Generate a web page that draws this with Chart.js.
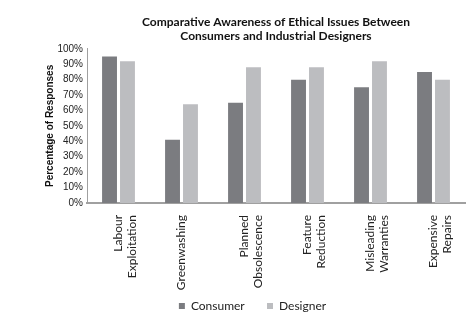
<!DOCTYPE html>
<html>
<head>
<meta charset="utf-8">
<script src="https://cdn.jsdelivr.net/npm/chart.js@4"></script>
<style>
    html, body { margin: 0; padding: 0; background: #fff; }
    #wrap { width: 476px; height: 322px; }
</style>
</head>
<body>
<div id="wrap"><canvas id="awarenessChart"></canvas></div>
<script>
const categories = [
    ['Labour', 'Exploitation'],
    'Greenwashing',
    ['Planned', 'Obsolescence'],
    ['Feature', 'Reduction'],
    ['Misleading', 'Warranties'],
    ['Expensive', 'Repairs']
];
const consumer = [95, 41, 65, 80, 75, 85];
const designer = [92, 64, 88, 88, 92, 80];
const yTicks = [0, 10, 20, 30, 40, 50, 60, 70, 80, 90, 100];

const sans = "'Liberation Sans', Arial, sans-serif";
const humanist = "Lato, 'Open Sans', sans-serif";

function initChart() {
    const ctx = document.getElementById('awarenessChart').getContext('2d');

    new Chart(ctx, {
        type: 'bar',
        data: {
            labels: categories,
            datasets: [
                {
                    label: 'Consumer',
                    data: consumer,
                    backgroundColor: '#7b7c80'
                },
                {
                    label: 'Designer',
                    data: designer,
                    backgroundColor: '#bcbdc0'
                }
            ]
        },
        options: {
            responsive: true,
            maintainAspectRatio: false,
            animation: false,
            categoryPercentage: 0.57,
            barPercentage: 0.83,
            layout: { padding: { left: 40, right: 11, bottom: 0 } },
            plugins: {
                title: {
                    display: true,
                    fullSize: false,
                    text: ['Comparative Awareness of Ethical Issues Between', 'Consumers and Industrial Designers'],
                    color: '#111',
                    font: { family: humanist, size: 12, weight: 'bold', lineHeight: 1.2 },
                    padding: { top: 15, bottom: 5 }
                },
                legend: {
                    position: 'bottom',
                    labels: {
                        color: '#222',
                        boxWidth: 6,
                        boxHeight: 6,
                        padding: 10,
                        font: { family: humanist, size: 12 },
                        // extra room between the two entries, like the original
                        generateLabels(chart) {
                            const items = Chart.defaults.plugins.legend.labels.generateLabels(chart);
                            items[0].text = items[0].text + '    ';
                            return items;
                        }
                    }
                },
                tooltip: { enabled: false }
            },
            scales: {
                x: {
                    grid: { display: false, drawTicks: false },
                    border: { display: true, color: '#a0a0a0', width: 2 },
                    ticks: {
                        color: '#222',
                        minRotation: 90,
                        maxRotation: 90,
                        padding: 12,
                        font: { family: humanist, size: 12, lineHeight: 1.1 }
                    },
                    afterFit(scale) { scale.height = 87; }
                },
                y: {
                    min: 0,
                    max: 100,
                    afterBuildTicks(scale) {
                        scale.ticks = yTicks.map(v => ({ value: v }));
                    },
                    grid: { display: false, drawTicks: false },
                    border: { display: true, color: '#a0a0a0', width: 1 },
                    ticks: {
                        autoSkip: false,
                        color: '#222',
                        padding: 4,
                        font: { family: sans, size: 10 },
                        callback: v => v + '%'
                    },
                    title: {
                        display: true,
                        text: 'Percentage of Responses',
                        color: '#111',
                        font: { family: sans, size: 10, weight: 'bold' },
                        padding: { top: 4, bottom: 0 }
                    },
                    afterFit(scale) { scale.width = 47; }
                }
            }
        }
    });
}

document.addEventListener('DOMContentLoaded', initChart);
</script>
</body>
</html>
